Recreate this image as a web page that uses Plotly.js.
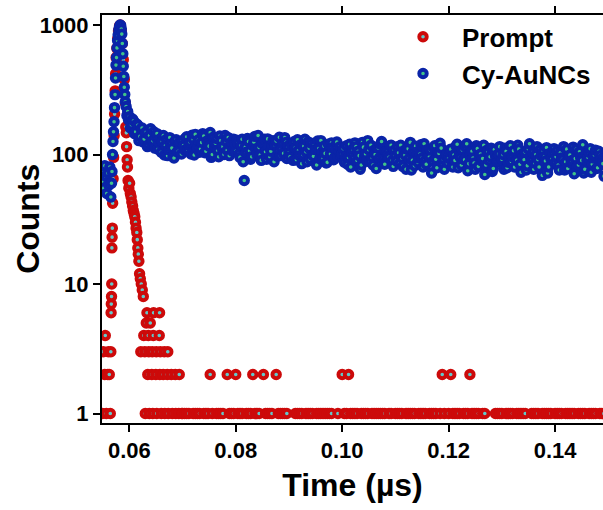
<!DOCTYPE html>
<html><head><meta charset="utf-8">
<script src="https://cdn.plot.ly/plotly-3.0.1.min.js"></script>
<style>html,body{margin:0;padding:0;background:#fff}#chart{width:603px;height:510px}</style>
</head><body><div id="chart"></div>
<script>
const seriesNames = ['Prompt', 'Cy-AuNCs'];
const xTitle = 'Time (µs)';
const yTitle = 'Counts';

// Prompt (IRF) – explicit channels around the pulse (time in µs, counts)
const promptHeadTime = [
  0.05493, 0.05512, 0.05540, 0.05549, 0.05568, 0.05596, 0.05606, 0.05624, 0.05643, 0.05653,
  0.05658, 0.05662, 0.05666, 0.05670, 0.05673, 0.05677, 0.05681, 0.05687, 0.05696, 0.05705,
  0.05715, 0.05724, 0.05734, 0.05743, 0.05752, 0.05765, 0.05780, 0.05797, 0.05816, 0.05831,
  0.05850, 0.05869, 0.05887, 0.05906, 0.05925, 0.05934, 0.05944, 0.05949, 0.05959, 0.05966,
  0.05977, 0.05991, 0.06006, 0.06019, 0.06034, 0.06047, 0.06062, 0.06075, 0.06090, 0.06103,
  0.06116, 0.06127, 0.06141, 0.06150, 0.06160, 0.06169, 0.06180, 0.06193, 0.06207, 0.06225,
  0.06244, 0.06263,
  0.06332, 0.06456, 0.06569,
  0.06319, 0.06394,
  0.06272, 0.06357, 0.06451, 0.06563,
  0.06216, 0.06291, 0.06366, 0.06432, 0.06507, 0.06582, 0.06657, 0.06723,
  0.06347, 0.06423, 0.06498, 0.06573, 0.06638, 0.06714, 0.06789, 0.06864, 0.06939,
  0.06300, 0.06376, 0.06441, 0.06516, 0.06601, 0.06667, 0.06732, 0.06808, 0.06873, 0.06930, 0.06986
];
const promptHeadCounts = [
  1, 3, 2, 4, 1, 2, 3, 2, 1, 3,
  6, 7, 8, 10, 19, 23, 27, 42, 65, 95,
  140, 205, 310, 420, 560, 660, 780, 900, 980, 1000,
  900, 720, 540, 380, 250, 163, 147, 115, 91, 80,
  63, 55, 60, 50, 47, 43, 40, 37, 35, 33,
  30, 27, 25, 22, 19, 17, 15, 12, 11, 10,
  9, 8,
  6, 6, 6,
  5, 5,
  4, 4, 4, 4,
  3, 3, 3, 3, 3, 3, 3, 3,
  2, 2, 2, 2, 2, 2, 2, 2, 2,
  1, 1, 1, 1, 1, 1, 1, 1, 1, 1, 1
];

// Cy-AuNCs decay – explicit channels around the pulse
const decayHeadTime = [
  0.05484, 0.05502, 0.05521, 0.05540, 0.05559, 0.05577, 0.05596, 0.05615, 0.05634, 0.05653,
  0.05666, 0.05675, 0.05685, 0.05694, 0.05703, 0.05713, 0.05722, 0.05732, 0.05741, 0.05750,
  0.05760, 0.05769, 0.05780, 0.05790, 0.05803, 0.05816, 0.05827, 0.05839, 0.05850, 0.05859,
  0.05869, 0.05878, 0.05887, 0.05897, 0.05906, 0.05915, 0.05925, 0.05940, 0.05955, 0.05970,
  0.05985, 0.06000, 0.06020, 0.06040, 0.06060, 0.06080, 0.06100, 0.06120, 0.06140, 0.06160,
  0.06180, 0.06200, 0.06220, 0.06240, 0.06260, 0.06280, 0.06300, 0.06320, 0.06340, 0.06360,
  0.06380, 0.06400, 0.06420, 0.06440, 0.06460, 0.06480, 0.06500, 0.06520, 0.06540, 0.06560,
  0.06580, 0.06600, 0.06620, 0.06640, 0.06660, 0.06680, 0.06700, 0.06720, 0.06740, 0.06760,
  0.06780, 0.06800, 0.06820, 0.06840, 0.06860, 0.06880, 0.06900, 0.06920, 0.06940, 0.06960,
  0.06980
];
const decayHeadCounts = [
  62, 75, 55, 82, 68, 50, 72, 58, 80, 47,
  60, 74, 100, 126, 150, 179, 230, 290, 390, 490,
  560, 665, 760, 838, 920, 965, 1000, 990, 930, 850,
  720, 600, 480, 400, 330, 290, 255, 235, 200, 215,
  185, 196, 160, 170, 188, 182, 145, 150, 172, 168,
  128, 138, 158, 160, 125, 132, 147, 150, 115, 118,
  140, 158, 121, 128, 150, 112, 136, 145, 110, 124,
  132, 104, 126, 140, 99, 118, 131, 98, 109, 135,
  120, 112, 96, 94, 127, 130, 105, 106, 124, 126,
  101
];

// Tail channels (0 counts are not drawn on the log axis)
const tailStart = 0.0700;
const promptTailStep = 0.0004;
const promptTailCounts = [
  1,1,1,1,0,1,1,1,1,0,1,1,1,2,1,0,1,1,1,1,0,2,1,1,1,
  2,1,1,1,0,1,1,1,2,1,1,1,0,2,1,1,1,1,0,2,1,1,1,1,1,
  0,0,0,1,1,1,1,0,1,1,1,1,0,1,1,1,1,1,1,1,1,0,0,1,0,
  2,1,1,2,1,1,1,1,0,1,1,1,1,0,1,1,1,1,1,1,1,0,1,1,0,
  1,1,1,1,0,1,1,1,1,1,0,1,1,1,1,0,1,1,1,1,0,1,2,1,0,
  1,2,1,1,1,1,0,1,1,1,2,1,1,1,1,0,1,1,0,0,0,0,1,1,1,
  1,0,1,1,1,1,0,1,1,1,1,1,0,0,1,1,1,1,0,1,1,1,1,1,0,
  1,1,1,1,0,1,1,1,1,1,0,1,1,1,1,0,1,1,1,1,0,1,1,1
];
const decayTailStep = 0.0002;
const decayTailCounts = [
  128,117,108,134,137,109,118,125,101,141,131,99,143,120,112,130,104,111,124,145,139,103,106,127,121,116,148,95,100,136,116,122,133,107,96,139,128,113,115,100,140,126,108,135,98,118,125,106,131,121,
  106,129,122,101,95,118,131,88,63,114,104,133,126,107,92,96,117,125,138,110,100,140,113,99,90,121,124,131,105,92,132,115,96,106,119,128,88,118,127,97,108,136,98,111,121,102,135,124,93,116,
  103,96,121,115,90,126,113,91,130,108,98,119,85,100,116,131,105,88,125,112,92,122,100,97,119,109,83,127,111,93,128,104,94,116,102,86,87,120,118,101,123,113,91,95,110,125,96,107,115,98,
  100,111,87,96,117,84,95,120,80,102,110,93,123,115,90,106,98,77,83,124,114,97,101,89,128,109,88,118,95,83,108,100,78,113,112,94,120,126,92,87,84,105,104,98,95,117,118,90,81,108,
  98,89,115,103,85,118,94,81,107,99,77,110,111,93,124,76,90,106,82,116,104,87,94,101,119,94,80,121,90,84,109,97,96,108,72,89,113,117,92,79,105,102,122,112,86,92,77,98,100,86,
  94,104,110,88,80,99,90,116,120,79,98,95,83,108,92,91,114,121,75,85,97,102,106,94,86,77,117,111,81,98,101,89,93,118,70,83,108,105,90,96,112,74,78,109,98,93,88,101,115,87,
  92,100,77,112,106,79,87,97,117,88,96,107,80,94,90,118,110,84,73,101,95,91,104,76,82,110,121,95,89,104,77,86,100,115,91,80,109,98,69,106,96,89,113,72,80,102,93,94,103,111,
  86,96,107,83,76,103,94,92,115,76,88,110,78,97,99,86,90,114,71,93,110,81,83,105,95,90,119,72,77,101,90,95,104,111,73,84,94,99,108,78,79,106,98,92,87,85,68
];

const xTickVals = [0.06, 0.08, 0.10, 0.12, 0.14];
const yTickVals = [1, 10, 100, 1000];
const yTickText = ['1', '10', '100', '1000'];

function buildSeries(headT, headC, tailC, step) {
  const x = headT.slice(), y = headC.slice();
  tailC.forEach((c, i) => { if (c > 0) { x.push(tailStart + i * step); y.push(c); } });
  return { x, y };
}

const prompt = buildSeries(promptHeadTime, promptHeadCounts, promptTailCounts, promptTailStep);
const decay = buildSeries(decayHeadTime, decayHeadCounts, decayTailCounts, decayTailStep);

const FONT = 'Liberation Sans, Arial, Helvetica, sans-serif';

const traces = [
  {
    x: prompt.x, y: prompt.y, name: seriesNames[0], type: 'scatter', mode: 'markers',
    marker: { symbol: 'circle', size: 7.5, color: '#62cacc', line: { width: 3.9, color: '#cc0a0a' } }
  },
  {
    x: decay.x, y: decay.y, name: seriesNames[1], type: 'scatter', mode: 'markers',
    marker: { symbol: 'circle', size: 7.5, color: '#40c48a', line: { width: 3.9, color: '#0a24a8' } }
  }
];

const layout = {
  width: 603, height: 510,
  margin: { l: 102, r: 0, t: 15, b: 87, autoexpand: false },
  paper_bgcolor: '#ffffff', plot_bgcolor: '#ffffff',
  font: { family: FONT, color: '#000', size: 22, weight: 700 },
  showlegend: true,
  legend: {
    x: 0.5629, y: 1.004, xanchor: 'left', yanchor: 'top',
    bgcolor: 'rgba(0,0,0,0)', borderwidth: 0,
    font: { family: FONT, size: 26, color: '#000', weight: 700 },
    itemwidth: 68
  },
  xaxis: {
    range: [0.05487, 0.14901], automargin: false,
    tickvals: xTickVals, tickformat: '.2f',
    ticks: 'outside', ticklen: 7, tickwidth: 2, tickcolor: '#000',
    showline: true, linewidth: 2, linecolor: '#000', mirror: 'allticks',
    showgrid: false, zeroline: false,
    tickfont: { family: FONT, size: 22, color: '#000', weight: 700 },
    title: { text: xTitle, font: { family: FONT, size: 32, color: '#000', weight: 700 }, standoff: 11 }
  },
  yaxis: {
    type: 'log', range: [-0.073, 3.077], automargin: false,
    tickvals: yTickVals, ticktext: yTickText,
    ticks: 'outside', ticklen: 7, tickwidth: 2, tickcolor: '#000',
    showline: true, linewidth: 2, linecolor: '#000',
    showgrid: false, zeroline: false,
    tickfont: { family: FONT, size: 22, color: '#000', weight: 700 }
  },
  annotations: [{
    text: yTitle, xref: 'paper', yref: 'paper', x: -0.148, y: 0.5,
    xanchor: 'center', yanchor: 'middle', textangle: -90, showarrow: false,
    font: { family: FONT, size: 32, color: '#000', weight: 700 }
  }]
};

Plotly.newPlot('chart', traces, layout, { displayModeBar: false, staticPlot: true });
</script>
</body></html>
